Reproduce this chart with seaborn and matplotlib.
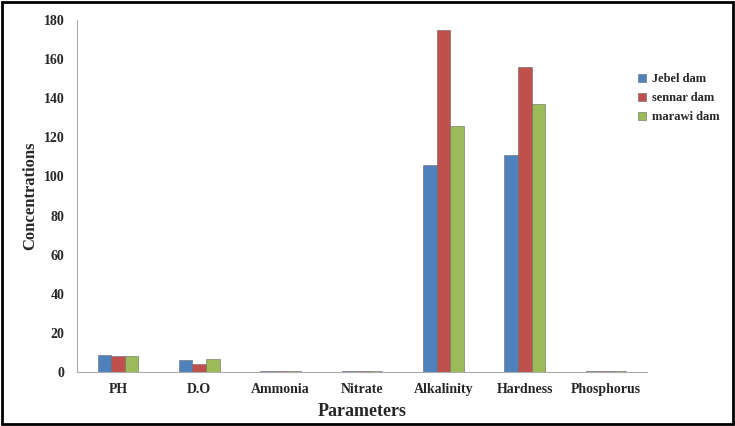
import pandas as pd
import seaborn as sns
import matplotlib.pyplot as plt
from matplotlib.patches import Rectangle

# data
parameters = ["PH", "D.O", "Ammonia", "Nitrate", "Alkalinity", "Hardness", "Phosphorus"]
jebel = [8.5, 6.0, 0.3, 0.3, 106, 111, 0.3]
sennar = [8.0, 4.0, 0.3, 0.3, 175, 156, 0.3]
marawi = [8.0, 6.5, 0.3, 0.3, 126, 137, 0.3]
dams = ["Jebel dam", "sennar dam", "marawi dam"]
colors = ["#4F81BD", "#C0504D", "#9BBB59"]

rows = []
for dam, values in zip(dams, [jebel, sennar, marawi]):
    for p, v in zip(parameters, values):
        rows.append({"Parameter": p, "Dam": dam, "Value": v})
df = pd.DataFrame(rows)

sns.set_style("white")
plt.rcParams["font.family"] = ["Liberation Serif", "DejaVu Serif"]
plt.rcParams["font.weight"] = "bold"

fig = plt.figure(figsize=(7.35, 4.26), dpi=100)
ax = fig.add_axes([0.105, 0.127, 0.775, 0.826])

sns.barplot(data=df, x="Parameter", y="Value", hue="Dam", palette=colors,
            saturation=1, width=0.5, edgecolor="#666666", linewidth=0.4, ax=ax)

ax.set_ylim(0, 180)
ax.set_xlim(-0.5, 6.5)
ax.set_yticks(range(0, 181, 20))
ax.tick_params(axis="y", length=3, color="#999999", labelsize=10, pad=6)
ax.tick_params(axis="x", length=0, labelsize=10, pad=8)
for lab in ax.get_xticklabels() + ax.get_yticklabels():
    lab.set_fontweight("bold")

ax.set_ylabel("Concentrations", fontsize=12, fontweight="bold", labelpad=4)
ax.set_xlabel("Parameters", fontsize=13, fontweight="bold", labelpad=5)

for s in ["top", "right"]:
    ax.spines[s].set_visible(False)
ax.spines["left"].set_color("#aaaaaa")
ax.spines["bottom"].set_color("#aaaaaa")

ax.legend(loc="upper left", bbox_to_anchor=(0.965, 0.88), frameon=False,
          prop={"weight": "bold", "size": 9}, handlelength=0.6, handleheight=0.6,
          handletextpad=0.5, labelspacing=0.55)

fig.patches.append(Rectangle((0.003, 0.005), 0.994, 0.99, transform=fig.transFigure,
                             fill=False, edgecolor="black", linewidth=2))

fig.savefig("out.png", dpi=100)
